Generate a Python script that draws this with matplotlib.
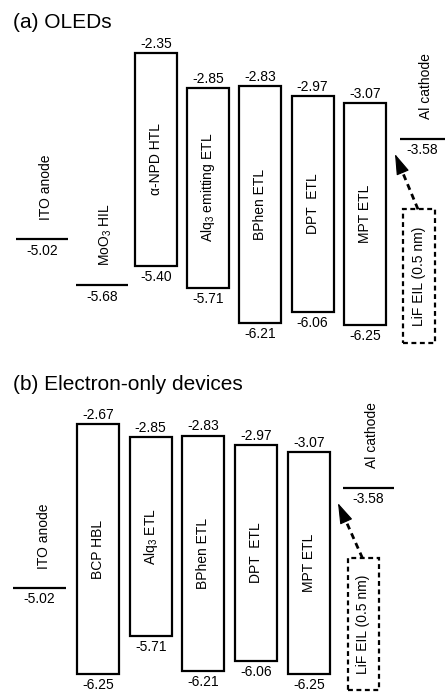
import matplotlib
matplotlib.use("Agg")
import matplotlib.pyplot as plt
from matplotlib.patches import Rectangle

plt.rcParams["font.family"] = ["Liberation Sans", "DejaVu Sans"]
plt.rcParams["mathtext.fontset"] = "custom"
plt.rcParams["mathtext.rm"] = "Liberation Sans"
plt.rcParams["mathtext.it"] = "Liberation Sans"

# energy levels (eV)
ITO = -5.02
MOO3 = -5.68
AL = -3.58

OLED_LAYERS = ["α-NPD HTL", "Alq$_3$ emitting ETL", "BPhen ETL", "DPT  ETL", "MPT ETL"]
OLED_LUMO = [-2.35, -2.85, -2.83, -2.97, -3.07]
OLED_HOMO = [-5.40, -5.71, -6.21, -6.06, -6.25]

EOD_LAYERS = ["BCP HBL", "Alq$_3$ ETL", "BPhen ETL", "DPT  ETL", "MPT ETL"]
EOD_LUMO = [-2.67, -2.85, -2.83, -2.97, -3.07]
EOD_HOMO = [-6.25, -5.71, -6.21, -6.06, -6.25]

W, H = 445, 697
FS = 10
LW = 1.6
DASH = (0, (2.2, 1.6))


def fmt(v):
    return f"{v:.2f}"


def level(ax, x0, x1, e, label):
    ax.plot([x0, x1], [e, e], color="k", lw=LW, solid_capstyle="butt")
    ax.annotate(fmt(e), xy=((x0 + x1) / 2, e), xytext=(0, -3), textcoords="offset points",
                ha="center", va="top", fontsize=FS)
    ax.text((x0 + x1) / 2 + 4, e + 0.28, label, rotation=90, ha="center", va="bottom", fontsize=FS)


def layer(ax, x0, w, lumo, homo, label):
    ax.add_patch(Rectangle((x0, homo), w, lumo - homo, fill=False, ec="k", lw=LW))
    xc = x0 + w / 2
    ax.annotate(fmt(lumo), xy=(xc, lumo), xytext=(0, 1.5), textcoords="offset points",
                ha="center", va="bottom", fontsize=FS)
    ax.annotate(fmt(homo), xy=(xc, homo), xytext=(0, -3), textcoords="offset points",
                ha="center", va="top", fontsize=FS)
    ax.text(xc, (lumo + homo) / 2, label, rotation=90, ha="center", va="center", fontsize=FS)


def lif(ax, x0, w, top, bottom, al_x0, al_e):
    ax.add_patch(Rectangle((x0, bottom), w, top - bottom, fill=False, ec="k", lw=LW, ls=DASH))
    ax.text(x0 + w / 2, (top + bottom) / 2, "LiF EIL (0.5 nm)", rotation=90,
            ha="center", va="center", fontsize=FS)
    # dashed shaft + solid head
    bx, by = x0 + w / 2 - 1, top
    tx, ty = al_x0 - 5, al_e - 0.22
    f = 0.32
    hx, hy = tx + f * (bx - tx), ty + f * (by - ty)
    ax.plot([bx, hx], [by, hy], color="k", lw=LW + 0.4, ls=DASH)
    ax.annotate("", xy=(tx, ty), xytext=(hx, hy),
                arrowprops=dict(arrowstyle="-|>,head_length=1.3,head_width=0.42", color="k",
                                lw=0.8, shrinkA=0, shrinkB=0))


fig = plt.figure(figsize=(W / 100, H / 100), dpi=100)

# panel (a)
axA = fig.add_axes([0, 1 - 350 / H, 1, 350 / H])
axA.set_xlim(0, W)
axA.set_ylim(-6.603, -1.596)
axA.axis("off")
level(axA, 16, 68, ITO, "ITO anode")
level(axA, 76, 128, MOO3, "MoO$_3$ HIL")
for i, (lab, lu, ho) in enumerate(zip(OLED_LAYERS, OLED_LUMO, OLED_HOMO)):
    layer(axA, 135 + 52.2 * i, 42, lu, ho, lab)
level(axA, 400, 445, AL, "Al cathode")
lif(axA, 403, 32, -4.59, -6.51, 400, AL)
fig.text(13 / W, 1 - 22 / H, "(a) OLEDs", fontsize=15, va="center", ha="left")

# panel (b)
axB = fig.add_axes([0, 0, 1, 347 / H])
axB.set_xlim(0, W)
axB.set_ylim(-6.581, -1.603)
axB.axis("off")
level(axB, 13, 66, ITO, "ITO anode")
for i, (lab, lu, ho) in enumerate(zip(EOD_LAYERS, EOD_LUMO, EOD_HOMO)):
    layer(axB, 77 + 52.7 * i, 42, lu, ho, lab)
level(axB, 343, 394, AL, "Al cathode")
lif(axB, 348, 31, -4.59, -6.48, 343, AL)
fig.text(13 / W, 1 - 384 / H, "(b) Electron-only devices", fontsize=15, va="center", ha="left")

fig.savefig("out.png", dpi=100)
